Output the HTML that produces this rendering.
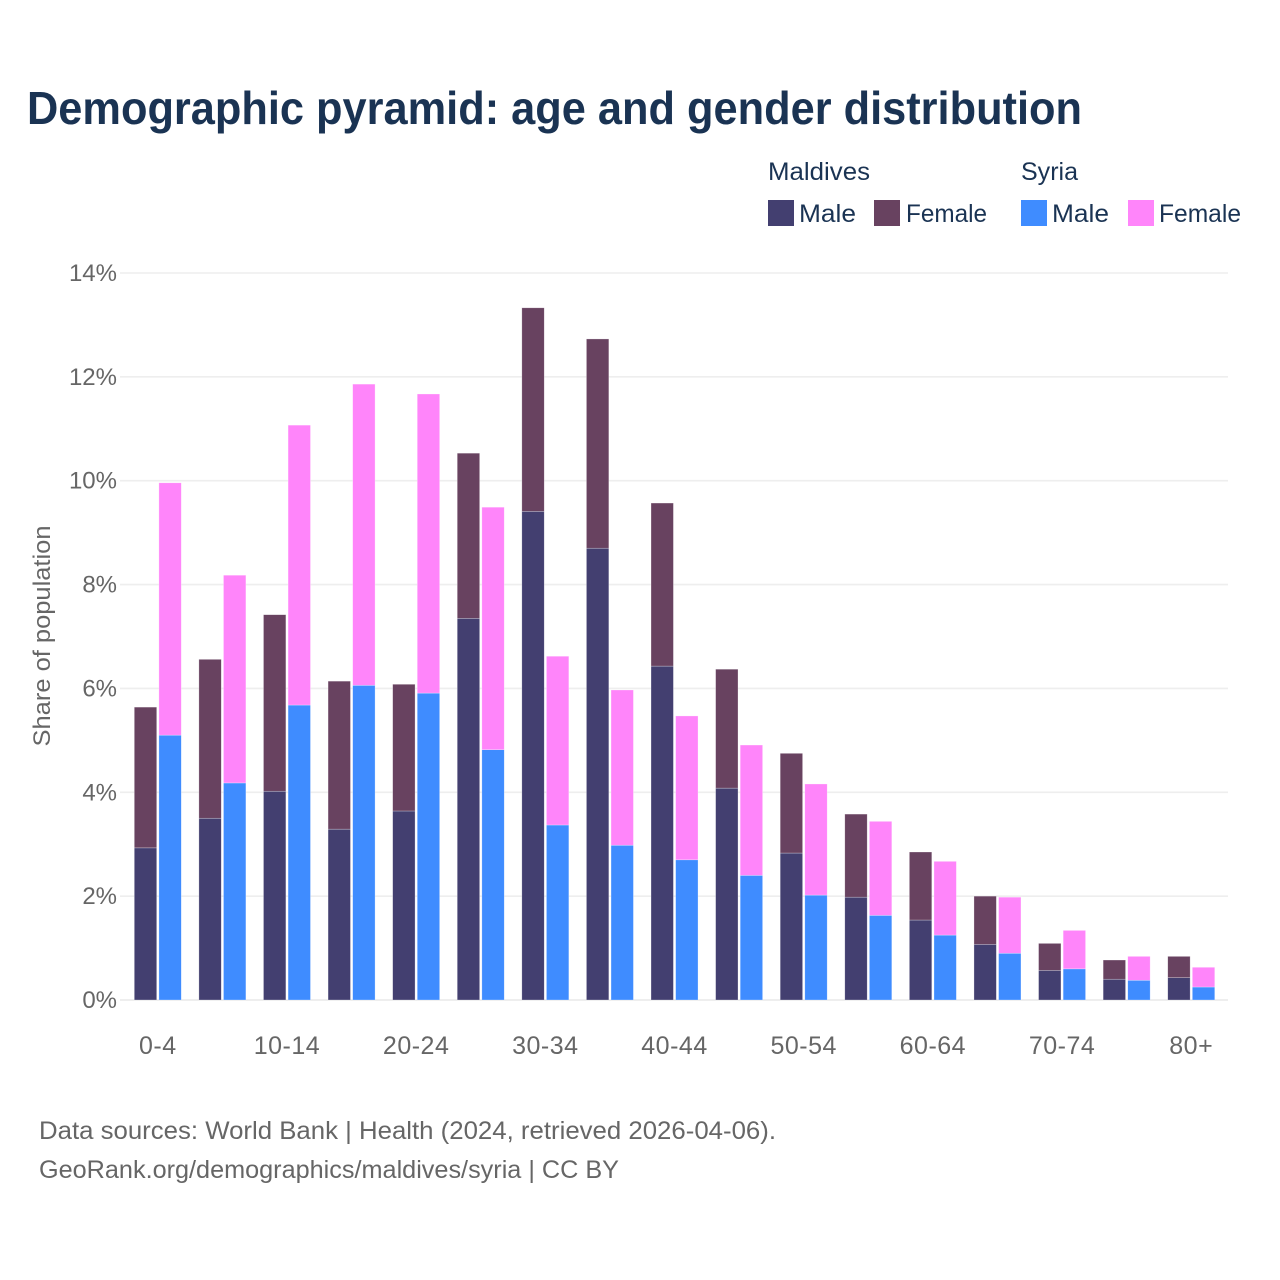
<!DOCTYPE html>
<html lang="en">
<head>
<meta charset="utf-8">
<title>Demographic pyramid</title>
<style>
html,body{margin:0;padding:0;background:#fff;width:1280px;height:1280px;overflow:hidden}
svg{display:block}
text{font-family:"Liberation Sans",sans-serif}
</style>
</head>
<body>
<svg id="chart" width="1280" height="1280" viewBox="0 0 1280 1280" xmlns="http://www.w3.org/2000/svg">
  <rect width="1280" height="1280" fill="#fff"/>
  <text x="27" y="124" font-size="46" font-weight="700" fill="#1a3353" textLength="1055" lengthAdjust="spacingAndGlyphs">Demographic pyramid: age and gender distribution</text>

  <g font-size="25" fill="#1a3353">
    <text x="768" y="180" textLength="102" lengthAdjust="spacingAndGlyphs">Maldives</text>
    <text x="1021" y="180" textLength="57" lengthAdjust="spacingAndGlyphs">Syria</text>
    <rect x="768" y="200" width="26" height="26" fill="#433f70"/>
    <text x="799" y="222" textLength="57" lengthAdjust="spacingAndGlyphs">Male</text>
    <rect x="874" y="200" width="26" height="26" fill="#684260"/>
    <text x="906" y="222" textLength="81" lengthAdjust="spacingAndGlyphs">Female</text>
    <rect x="1021" y="200" width="26" height="26" fill="#3f8cff"/>
    <text x="1052" y="222" textLength="57" lengthAdjust="spacingAndGlyphs">Male</text>
    <rect x="1128" y="200" width="26" height="26" fill="#ff85fa"/>
    <text x="1159" y="222" textLength="82" lengthAdjust="spacingAndGlyphs">Female</text>
  </g>

  <g id="grid"></g>
  <g id="yticks"></g>
  <g id="bars"></g>
  <g id="xticks"></g>

  <text transform="translate(50,636) rotate(-90)" text-anchor="middle" font-size="24" fill="#666" textLength="221" lengthAdjust="spacingAndGlyphs">Share of population</text>

  <text x="39" y="1139" font-size="25" fill="#666" textLength="737" lengthAdjust="spacingAndGlyphs">Data sources: World Bank | Health (2024, retrieved 2026-04-06).</text>
  <text x="39" y="1178" font-size="25" fill="#666" textLength="580" lengthAdjust="spacingAndGlyphs">GeoRank.org/demographics/maldives/syria | CC BY</text>
</svg>
<script>
const ageGroups = ["0-4","5-9","10-14","15-19","20-24","25-29","30-34","35-39","40-44","45-49","50-54","55-59","60-64","65-69","70-74","75-79","80+"];
const visibleAgeLabels = ["0-4","10-14","20-24","30-34","40-44","50-54","60-64","70-74","80+"];
const maldivesMale = [2.93,3.50,4.02,3.29,3.64,7.35,9.41,8.70,6.43,4.08,2.83,1.98,1.54,1.07,0.57,0.40,0.43];
const maldivesFemale = [2.71,3.06,3.40,2.85,2.44,3.18,3.92,4.03,3.14,2.29,1.92,1.60,1.31,0.93,0.52,0.37,0.41];
const syriaMale = [5.10,4.18,5.68,6.06,5.91,4.82,3.37,2.98,2.70,2.40,2.02,1.63,1.25,0.90,0.60,0.38,0.25];
const syriaFemale = [4.86,4.00,5.39,5.80,5.76,4.67,3.25,2.99,2.77,2.51,2.14,1.81,1.42,1.08,0.74,0.46,0.38];
const yTicks = [0,2,4,6,8,10,12,14];

const NS = "http://www.w3.org/2000/svg";
const yScale = v => 1000 - v * (727 / 14);
const groupCenter = i => 157.8 + i * 64.59;
const barWidth = 22.4;
const barGap = 2.2;

function make(tag, attrs, parent) {
  const el = document.createElementNS(NS, tag);
  for (const k in attrs) el.setAttribute(k, attrs[k]);
  parent.appendChild(el);
  return el;
}

const grid = document.getElementById("grid");
const yLabels = document.getElementById("yticks");
yTicks.forEach(t => {
  const line = make("line", {x1:120, x2:1228, y1:yScale(t), y2:yScale(t), stroke:"#eeeeee", "stroke-width":t === 0 ? 2 : 1.6}, grid);
  
  
  const label = make("text", {x:117, y:yScale(t) + 8, "text-anchor":"end", "font-size":24, fill:"#666"}, yLabels);
  
  
  label.textContent = t + "%";
});

const barsGroup = document.getElementById("bars");
function drawBar(x, base, value, fill, name) {
  const top = yScale(base + value);
  const bottom = yScale(base);
  const bar = make("rect", {x:x, y:top, width:barWidth, height:bottom - top, fill:fill, stroke:"#ffffff", "stroke-opacity":0.45, "stroke-width":0.6}, barsGroup);
  
  
}
ageGroups.forEach((group, i) => {
  const c = groupCenter(i);
  const left = c - barGap / 2 - barWidth;
  const right = c + barGap / 2;
  drawBar(left, 0, maldivesMale[i], "#433f70", "bar-maldives-male");
  drawBar(left, maldivesMale[i], maldivesFemale[i], "#684260", "bar-maldives-female");
  drawBar(right, 0, syriaMale[i], "#3f8cff", "bar-syria-male");
  drawBar(right, syriaMale[i], syriaFemale[i], "#ff85fa", "bar-syria-female");
});

const xLabels = document.getElementById("xticks");
visibleAgeLabels.forEach(name => {
  const i = ageGroups.indexOf(name);
  const label = make("text", {x:groupCenter(i), y:1054, "text-anchor":"middle", "font-size":25, "letter-spacing":0.5, fill:"#666"}, xLabels);
  
  
  label.textContent = name;
});
</script>
</body>
</html>
